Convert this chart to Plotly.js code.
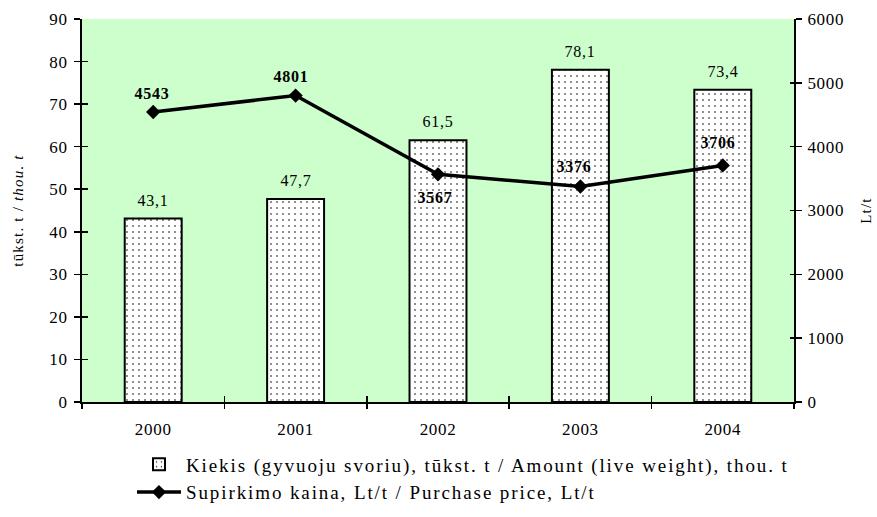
<!DOCTYPE html>
<html>
<head>
<meta charset="utf-8">
<script src="https://cdn.plot.ly/plotly-3.0.1.min.js"></script>
<style>
html,body{margin:0;padding:0;background:#fff;}
#chart{width:877px;height:517px;}
.xtick text,.ytick text,.y2tick text{letter-spacing:0.04em;}
.legendtext{letter-spacing:0.1em;}
.ytitle,.y2title{letter-spacing:0.08em;}
.annotation text{letter-spacing:0.05em;}
</style>
</head>
<body>
<div id="chart"></div>
<script>
const years = ['2000', '2001', '2002', '2003', '2004'];
const amount = [43.1, 47.7, 61.5, 78.1, 73.4];
const price = [4543, 4801, 3567, 3376, 3706];
const amountName = 'Kiekis (gyvuoju svoriu), tūkst. t / Amount (live weight), thou. t';
const priceName = 'Supirkimo kaina, Lt/t / Purchase price, Lt/t';

const FONT = 'Liberation Serif, Times New Roman, serif';
// label offsets (pixels) for the price labels
const priceLabelDY = [19, 19, -23, 20, 23];
const priceLabelDX = [-1, -5, -3, -6, -5];

const traces = [
  {
    type: 'bar', x: years, y: amount, name: amountName,
    width: 0.40,
    marker: {color: '#ffffff', line: {color: '#000', width: 2},
      pattern: {shape: '.', fgcolor: '#000', bgcolor: '#fff', size: 6, solidity: 0.06}},
    yaxis: 'y', xaxis: 'x', hoverinfo: 'skip'
  },
  {
    type: 'scatter', mode: 'lines+markers', x: years, y: price, name: priceName,
    line: {color: '#000', width: 3.5},
    marker: {symbol: 'diamond', size: 11, color: '#000'},
    yaxis: 'y2', xaxis: 'x', hoverinfo: 'skip'
  },
  // invisible helper traces so the overlay axes draw the inner halves of the crossing ticks
  {type: 'scatter', x: years, y: amount, xaxis: 'x2', yaxis: 'y3', mode: 'none', showlegend: false, hoverinfo: 'skip'},
  {type: 'scatter', x: years, y: price, xaxis: 'x2', yaxis: 'y4', mode: 'none', showlegend: false, hoverinfo: 'skip'}
];

const barLabels = years.map((yr, i) => ({
  x: i, y: amount[i], xref: 'x', yref: 'y', text: amount[i].toFixed(1).replace('.', ','),
  showarrow: false, yanchor: 'bottom', yshift: 8,
  font: {family: FONT, size: 16, color: '#000'}
}));
const priceLabels = years.map((yr, i) => ({
  x: i, y: price[i], xref: 'x', yref: 'y2', text: '<b>' + price[i] + '</b>',
  showarrow: false, yshift: priceLabelDY[i], xshift: priceLabelDX[i],
  font: {family: FONT, size: 16, color: '#000'}
}));

const catRange = [-0.5, years.length - 0.5];

const layout = {
  width: 877, height: 517,
  margin: {l: 82, r: 83, t: 19, b: 115, autoexpand: false},
  paper_bgcolor: '#fff', plot_bgcolor: '#ccffcc',
  font: {family: FONT, size: 17, color: '#000'},
  separators: ',.',
  showlegend: true,
  legend: {x: 0.0702, y: -0.1136, xanchor: 'left', yanchor: 'top',
    orientation: 'v', font: {family: FONT, size: 19, color: '#000'}, itemwidth: 44,
    bgcolor: 'rgba(0,0,0,0)', borderwidth: 0},
  xaxis: {type: 'category', range: catRange, automargin: false, tickangle: 0, showgrid: false, showline: true,
    linecolor: '#000', linewidth: 2,
    ticks: 'outside', tickson: 'boundaries', ticklen: 5, tickwidth: 1.5, tickcolor: '#000',
    ticklabelstandoff: 11, tickfont: {family: FONT, size: 17}, zeroline: false},
  xaxis2: {type: 'category', range: catRange, automargin: false, overlaying: 'x', showgrid: false, showticklabels: false,
    ticks: 'inside', tickson: 'boundaries', ticklen: 6, tickwidth: 1.5, tickcolor: '#000'},
  yaxis: {range: [0, 90], dtick: 10, automargin: false, showgrid: false, showline: true, linecolor: '#000', linewidth: 2,
    ticks: 'outside', ticklen: 6, tickwidth: 1.5, tickcolor: '#000', zeroline: false,
    ticklabelstandoff: 3, tickfont: {family: FONT, size: 17},
    title: {text: 'tūkst. t / <i>thou. t</i>', font: {family: FONT, size: 15}, standoff: 22}},
  yaxis2: {range: [0, 6000], dtick: 1000, automargin: false, overlaying: 'y', side: 'right', showgrid: false,
    showline: true, linecolor: '#000', linewidth: 2, ticks: 'outside', ticklen: 6, tickwidth: 1.5,
    tickcolor: '#000', zeroline: false, ticklabelstandoff: 2, tickfont: {family: FONT, size: 17},
    title: {text: 'Lt/t', font: {family: FONT, size: 15}, standoff: 17}},
  yaxis3: {range: [0, 90], dtick: 10, automargin: false, overlaying: 'y', side: 'left', showgrid: false, showticklabels: false,
    ticks: 'inside', ticklen: 6, tickwidth: 1.5, tickcolor: '#000', zeroline: false},
  yaxis4: {range: [0, 6000], dtick: 1000, automargin: false, overlaying: 'y', side: 'right', showgrid: false, showticklabels: false,
    ticks: 'inside', ticklen: 4, tickwidth: 1.5, tickcolor: '#000', zeroline: false},
  annotations: barLabels.concat(priceLabels)
};

Plotly.newPlot('chart', traces, layout, {displayModeBar: false, staticPlot: true});
</script>
</body>
</html>
